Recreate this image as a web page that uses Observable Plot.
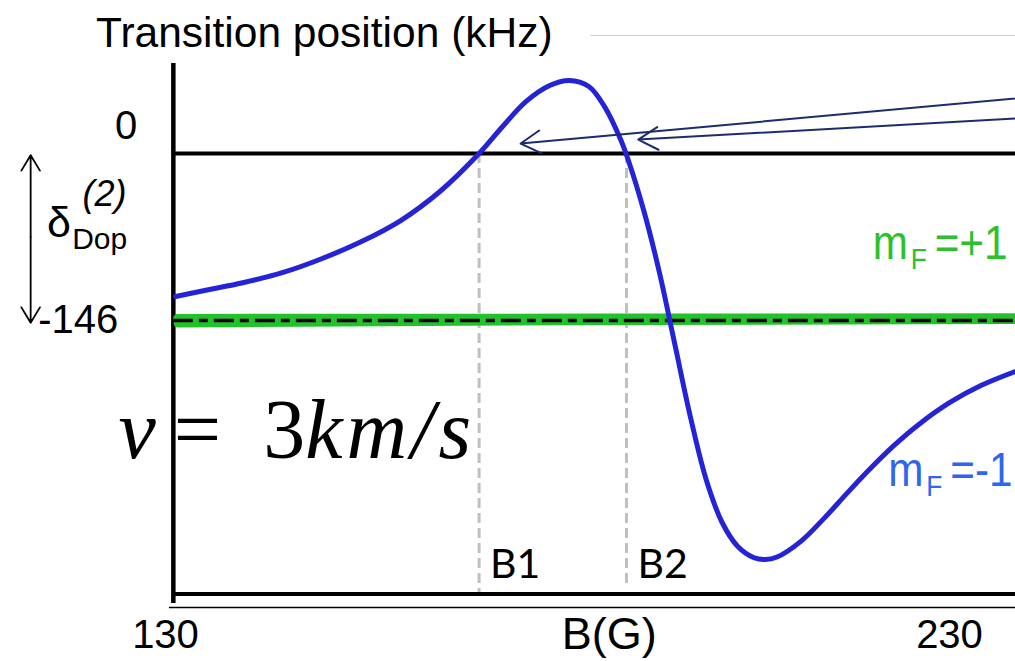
<!DOCTYPE html>
<html><head><meta charset="utf-8">
<script src="https://cdn.jsdelivr.net/npm/d3@7"></script>
<script src="https://cdn.jsdelivr.net/npm/@observablehq/plot@0.6"></script>
<style>
body{margin:0;background:#fff;font-family:"Liberation Sans",Arial,sans-serif;}
#wrap{position:relative;width:1015px;height:661px;overflow:hidden;background:#fff;}
#title{position:absolute;left:96px;top:12px;font-size:42.5px;line-height:42px;color:#000;white-space:nowrap;}
#rule{position:absolute;left:590px;top:35px;width:425px;height:1px;background:#d0d0d0;}
#chart{position:absolute;left:0;top:63px;}
</style></head>
<body><div id="wrap"><div id="title">Transition position (kHz)</div><div id="rule"></div><div id="chart"></div></div>
<script>
// ---- data ----
const fieldG = [131.3,135,140,145,150,155,160,165,170,173,176,179,181.5,184,186,188,189,191,193,195,197,199,201,203,205,206.5,208,211,214,217,220,223,226,230,234,238.5];
const mFminus1kHz = [-125,-119.8,-112.8,-104,-91.8,-77,-58.6,-33.2,0,23.6,45.5,59.4,63.8,58.6,41,13.1,-5.2,-49.8,-104,-167.9,-231.7,-285.9,-322.6,-343.6,-353.2,-355,-352.8,-339.3,-319,-296.5,-274.8,-254.8,-237.3,-217.9,-202.9,-190.3];
const mFplus1G = [131.6,185,238.5];
const mFplus1kHz = [-144.6,-144.3,-144.0];
const mFplus1bG = [131.6,180,238.5];
const mFplus1bkHz = [-148.2,-146.2,-145.2];
const dopplerShift = -146;           // second-order Doppler level (kHz)
const bFields = [170, 188.8];        // B1, B2 (G)
const bNames = ["B1","B2"];
const bLineEnds = [-385, -376];
const xTicks = [130, 230];
const yTickLabels = ["0","-146"];
const arrowStarts = [[242,50.3],[242,32.0]];
const arrowEnds = [[175.3,8.7],[190.3,12.2]];
const seriesNames = ["=+1", "=-1"];

// ---- layout ----
const W = 1015, H = 598;
const kx = 7.84, ky = 167/146;
const xDomain = [130 - 165/kx, 130 + (W - 165)/kx];
const yDomain = [-(H - 90)/ky, 90/ky];
const xLeft = 131.0, xRight = xDomain[1] + 2;
const yTop = yDomain[1], yBottom = -385, yAxisLine = -397, yVertEnd = -393.4;

const blue = fieldG.map((g,i)=>({g, v: mFminus1kHz[i]}));
const greenA = mFplus1G.map((g,i)=>({g, v: mFplus1kHz[i]}));
const greenB = mFplus1bG.map((g,i)=>({g, v: mFplus1bkHz[i]}));
const bData = bFields.map((b,i)=>({b, name: bNames[i], end: bLineEnds[i]}));
const arrows = arrowStarts.map((s,i)=>({x1:s[0],y1:s[1],x2:arrowEnds[i][0],y2:arrowEnds[i][1]}));
const labels = [
  {x: 220.2, y: -91.8, rest: seriesNames[0], color: "#2cc02c"},
  {x: 222.2, y: -290.3, rest: seriesNames[1], color: "#2f66f0"}
];

const SANS = '"Liberation Sans", Arial, sans-serif';
const labelStyle = {x: "x", y: "y", fill: "color", lineAnchor: "bottom", textAnchor: "start"};

const plot = Plot.plot({
  width: W, height: H,
  marginTop: 0, marginRight: 0, marginBottom: 0, marginLeft: 0,
  x: {domain: xDomain, axis: null},
  y: {domain: yDomain, axis: null},
  color: {type: "identity"},
  style: {fontFamily: SANS, background: "#fff", overflow: "visible"},
  marks: [
    // B1 / B2 dashed guides
    Plot.ruleX(bData, {x: "b", y1: 0, y2: "end", stroke: "#c0c0c0", strokeWidth: 3, strokeDasharray: "10,5"}),
    // axes / frame lines
    Plot.ruleX([xLeft], {y1: yTop, y2: yVertEnd, stroke: "#000", strokeWidth: 4.5}),
    Plot.ruleY([0], {x1: xLeft, x2: xRight, stroke: "#000", strokeWidth: 4}),
    Plot.ruleY([yBottom], {x1: xLeft, x2: xRight, stroke: "#000", strokeWidth: 4}),
    Plot.ruleY([yAxisLine], {x1: 130.5, x2: xRight, stroke: "#000", strokeWidth: 1.5}),
    // m_F = +1 (green)
    Plot.line(greenB, {x: "g", y: "v", stroke: "#22c32a", strokeWidth: 9}),
    Plot.line(greenA, {x: "g", y: "v", stroke: "#22c32a", strokeWidth: 10}),
    // Doppler reference dash-dot
    Plot.ruleY([dopplerShift], {x1: xLeft, x2: xRight, stroke: "#000", strokeWidth: 3.5, strokeDasharray: "20,6,9,6"}),
    // m_F = -1 (blue)
    Plot.line(blue, {x: "g", y: "v", stroke: "#2424d6", strokeWidth: 5, curve: "catmull-rom"}),
    // arrows
    Plot.arrow(arrows, {x1: "x1", y1: "y1", x2: "x2", y2: "y2", stroke: "#1c2c6c", strokeWidth: 2, headLength: 17, headAngle: 60}),
    // Doppler double arrow
    Plot.arrow([{a: -73, b: -1.5}, {a: -73, b: -148}], {x1: 112.8, x2: 112.8, y1: "a", y2: "b", stroke: "#000", strokeWidth: 1.8, headLength: 15, headAngle: 62}),
    // tick labels
    Plot.text([yTickLabels[0]], {x: xLeft, y: 0, text: d => d, dx: -36, dy: -15, lineAnchor: "bottom", textAnchor: "end", fontSize: 40, fill: "#000"}),
    Plot.text([yTickLabels[1]], {x: xLeft, y: dopplerShift, text: d => d, dx: -55, dy: 12, lineAnchor: "bottom", textAnchor: "end", fontSize: 40, fill: "#000"}),
    Plot.text(xTicks, {x: d => d, y: yAxisLine, text: d => String(d), dy: 40, lineAnchor: "bottom", textAnchor: "middle", fontSize: 40, fill: "#000"}),
    Plot.text(["B(G)"], {x: 186.6, y: yAxisLine, text: d => d, dy: 41, lineAnchor: "bottom", textAnchor: "middle", fontSize: 45, fill: "#000"}),
    // B1/B2 labels
    Plot.text(bData, {x: "b", y: yBottom, text: "name", dx: 11, dy: -16, lineAnchor: "bottom", textAnchor: "start", fontSize: 41, fontFamily: "Lato, sans-serif", fill: "#000"}),
    // delta Dop label
    Plot.text(["δ"], {x: 114.9, y: -73.4, text: d => d, lineAnchor: "bottom", textAnchor: "start", fontSize: 43, fill: "#000"}),
    Plot.text(["(2)"], {x: 119.4, y: -46.3, text: d => d, lineAnchor: "bottom", textAnchor: "start", fontSize: 36, fontStyle: "italic", fill: "#000"}),
    Plot.text(["Dop"], {x: 118.1, y: -83.1, text: d => d, lineAnchor: "bottom", textAnchor: "start", fontSize: 30, fill: "#000"}),
    // velocity
    Plot.text(["v = 3km/s"], {x: 124.0, y: -266.6, text: d => d, lineAnchor: "bottom", textAnchor: "start", fontSize: 84, fontFamily: '"Liberation Serif", serif', fill: "#000"}),
    // series labels m_F (m, subscript F, value)
    Plot.text(labels, {...labelStyle, text: () => "m", fontSize: 48}),
    Plot.text(labels, {...labelStyle, text: () => "F", fontSize: 30, dx: 38, dy: 10}),
    Plot.text(labels, {...labelStyle, text: "rest", fontSize: 48, dx: 62})
  ]
});

const NS = "http://www.w3.org/2000/svg";
function rich(el, parts) {
  el.textContent = "";
  for (const p of parts) {
    const ts = document.createElementNS(NS, "tspan");
    ts.textContent = p.t;
    for (const [k, v] of Object.entries(p.a || {})) ts.setAttribute(k, v);
    el.appendChild(ts);
  }
}
plot.querySelectorAll("text").forEach(el => {
  const t = el.textContent;
  if (t === "m" || t === "F" || seriesNames.includes(t)) {
    el.setAttribute("transform", (el.getAttribute("transform") || "") + " scale(0.88,1)");
  } else if (t === "v = 3km/s") {
    rich(el, [
      {t: "v", a: {"font-style": "italic"}},
      {t: "=", a: {dx: 18}},
      {t: "3", a: {dx: 42}},
      {t: "km/s", a: {"font-style": "italic", "letter-spacing": 4}}
    ]);
  }
});
document.getElementById("chart").appendChild(plot);
</script></body></html>
